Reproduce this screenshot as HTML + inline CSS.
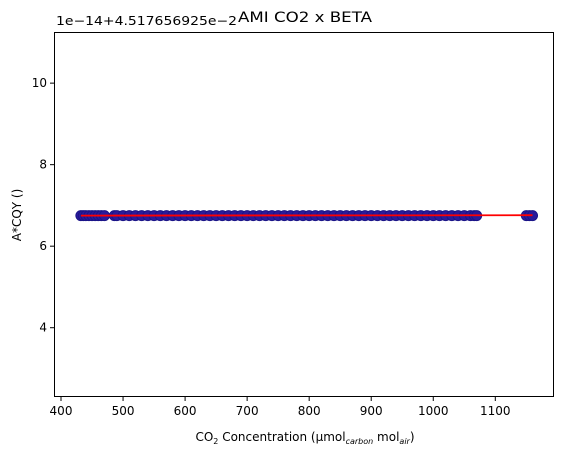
<!DOCTYPE html>
<html><head><meta charset="utf-8"><style>
body{margin:0;background:#fff;}
svg{font-family:"DejaVu Sans","Liberation Sans",sans-serif;}
</style></head><body>
<svg id="chart" width="563" height="457" viewBox="0 0 563 457" xmlns="http://www.w3.org/2000/svg">
<rect width="563" height="457" fill="#fff"/>
<g id="marks"></g>
<rect x="54.5" y="32.5" width="499" height="364" fill="none" stroke="#000" stroke-width="1"/>
<g id="xticks"></g>
<g id="yticks"></g>
<text x="56" y="25" font-size="12" fill="#000" textLength="181" lengthAdjust="spacingAndGlyphs">1e−14+4.517656925e−2</text>
<text x="238" y="22" font-size="14" fill="#000" textLength="134" lengthAdjust="spacingAndGlyphs">AMI CO2 x BETA</text>
<text x="305" y="441" font-size="12" text-anchor="middle" fill="#000">CO<tspan font-size="8" dy="3">2</tspan><tspan dy="-3"> Concentration (µmol</tspan><tspan font-size="8" dy="3" font-style="italic">carbon</tspan><tspan dy="-3"> mol</tspan><tspan font-size="8" dy="3" font-style="italic">air</tspan><tspan dy="-3">)</tspan></text>
<text transform="translate(21,215) rotate(-90)" font-size="12" text-anchor="middle" fill="#000">A*CQY ()</text>
</svg>
<script>
const xTicks=[400,500,600,700,800,900,1000,1100];
const yTicks=[4,6,8,10];
const co2=[432,436,440,445,450,455,460,465,470,486,490,500,510,520,530,540,550,560,570,580,590,600,610,620,630,640,650,660,670,680,690,700,710,720,730,740,750,760,770,780,790,800,810,820,830,840,850,860,870,880,890,900,910,920,930,940,950,960,970,980,990,1000,1010,1020,1030,1040,1050,1060,1066,1070,1150,1155,1160];
const acqy=co2.map(()=>6.75);
const fitX=[432,1160];
const fitY=[6.75,6.76];
const X=v=>54+(v-388.7)*(499/(1193-388.7));
const Y=v=>397-(v-2.3)*(364/(11.23-2.3));
const NS="http://www.w3.org/2000/svg";
const m=document.getElementById('marks');
co2.forEach((c,i)=>{
 const e=document.createElementNS(NS,'circle');
 
 
 e.setAttribute('cx',X(c));e.setAttribute('cy',Y(acqy[i]));e.setAttribute('r',5);
 e.setAttribute('fill','#2a1a9a');e.setAttribute('stroke','#1a1488');
 m.appendChild(e);
});
const l=document.createElementNS(NS,'line');


l.setAttribute('x1',X(fitX[0]));l.setAttribute('x2',X(fitX[1]));
l.setAttribute('y1',Y(fitY[0]));l.setAttribute('y2',Y(fitY[1]));
l.setAttribute('stroke','#ff0000');l.setAttribute('stroke-width','1.8');
m.appendChild(l);
const xg=document.getElementById('xticks');
xTicks.forEach(t=>{
 const g=document.createElementNS(NS,'g');
 
 
 g.innerHTML=`<line x1="${X(t)}" x2="${X(t)}" y1="397" y2="401" stroke="#000"/><text x="${X(t)}" y="415" font-size="12" text-anchor="middle">${t}</text>`;
 xg.appendChild(g);
});
const yg=document.getElementById('yticks');
yTicks.forEach(t=>{
 const g=document.createElementNS(NS,'g');
 
 
 g.innerHTML=`<line x1="50" x2="54" y1="${Y(t)}" y2="${Y(t)}" stroke="#000"/><text x="47" y="${Y(t)+4}" font-size="12" text-anchor="end">${t}</text>`;
 yg.appendChild(g);
});
</script>
</body></html>
